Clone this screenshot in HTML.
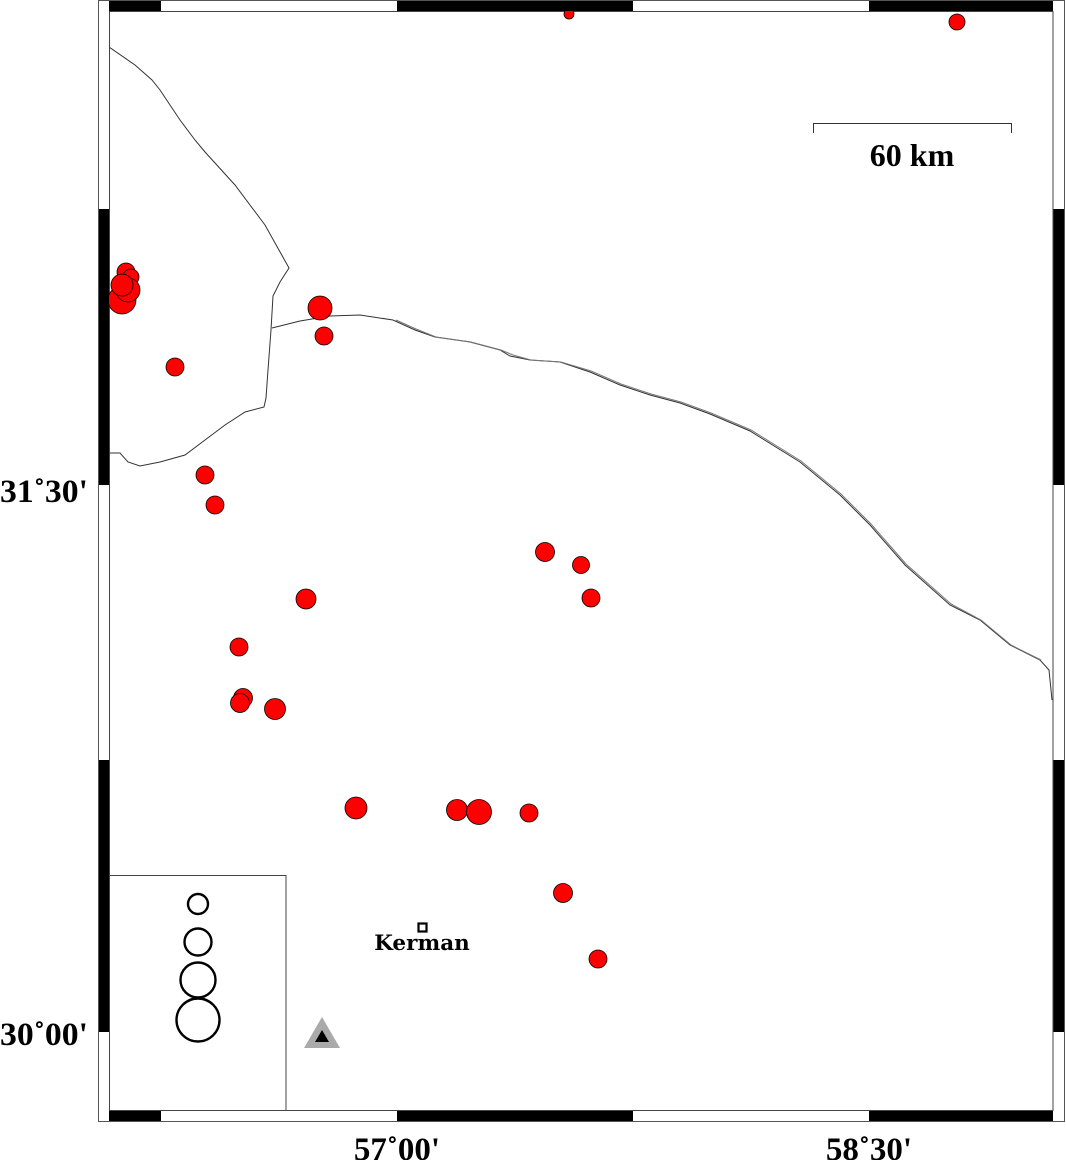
<!DOCTYPE html>
<html><head><meta charset="utf-8"><style>html,body{margin:0;padding:0;background:#fff}svg{display:block}</style></head>
<body>
<svg width="1066" height="1160" viewBox="0 0 1066 1160" xmlns="http://www.w3.org/2000/svg">
<defs><clipPath id="m"><rect x="109" y="11" width="944" height="1100"/></clipPath></defs>
<rect x="0" y="0" width="1066" height="1160" fill="#fff"/>
<rect x="98.5" y="0.5" width="966" height="1121" fill="#fff" stroke="#555" stroke-width="1"/>
<rect x="109" y="1" width="52" height="10" fill="#000"/>
<rect x="397" y="1" width="236" height="10" fill="#000"/>
<rect x="869" y="1" width="184" height="10" fill="#000"/>
<rect x="109" y="1111" width="52" height="10" fill="#000"/>
<rect x="397" y="1111" width="236" height="10" fill="#000"/>
<rect x="869" y="1111" width="184" height="10" fill="#000"/>
<rect x="99" y="209" width="10" height="276" fill="#000"/>
<rect x="99" y="760" width="10" height="272" fill="#000"/>
<rect x="1053" y="209" width="11" height="276" fill="#000"/>
<rect x="1053" y="760" width="11" height="272" fill="#000"/>
<rect x="109.5" y="11.5" width="943.5" height="1099" fill="#fff" stroke="#444" stroke-width="1"/>

<g clip-path="url(#m)" fill="none" stroke="#333" stroke-width="1">
<polyline points="109,47 135,65 152,80 160,90 180,120 195,140 205,152 235,185 265,225 289,268 280,282 273,296 271,330 268,370 266,398 264,407 245,412 225,425 205,440 185,455 160,462 140,466 128,462 120,453 109,453"/>
<polyline points="272,328 300,321 330,316 360,315 393,320 415,330 435,337 470,342 500,350 510,356 530,360 560,362 590,372 620,385 650,395 680,403 710,414 750,431 800,462 840,495 870,525 905,565 950,605 980,620 1010,645 1040,660 1049,670 1052,700"/>
<polyline stroke="#777" points="395,318 415,327 435,335 470,340 500,348 512,353 530,358 560,360 590,369 620,382 650,392 680,400 710,411 750,428 800,459 840,492 870,522 905,562 950,602 980,618 1010,643 1040,658" transform="translate(1,2)"/>
</g>

<g clip-path="url(#m)" fill="#ff0000" stroke="#000" stroke-width="0.8">
<circle cx="569" cy="14" r="5"/>
<circle cx="957" cy="22" r="8"/>
<circle cx="126" cy="272" r="9"/>
<circle cx="131" cy="277" r="8"/>
<circle cx="122" cy="300" r="14"/>
<circle cx="128" cy="290" r="12"/>
<circle cx="122" cy="285" r="11"/>
<circle cx="320" cy="308" r="12"/>
<circle cx="324" cy="336" r="9"/>
<circle cx="175" cy="367" r="9"/>
<circle cx="205" cy="475" r="9"/>
<circle cx="215" cy="505" r="9"/>
<circle cx="545" cy="552" r="9.5"/>
<circle cx="581" cy="565" r="8.5"/>
<circle cx="591" cy="598" r="9"/>
<circle cx="306" cy="599" r="10"/>
<circle cx="239" cy="647" r="9"/>
<circle cx="243" cy="698" r="9.5"/>
<circle cx="240" cy="703" r="9.5"/>
<circle cx="275" cy="709" r="10.5"/>
<circle cx="356" cy="808" r="11"/>
<circle cx="457" cy="810" r="10.5"/>
<circle cx="479" cy="812" r="12.5"/>
<circle cx="529" cy="813" r="9"/>
<circle cx="563" cy="893" r="9.5"/>
<circle cx="598" cy="959" r="9"/>
</g>

<rect x="109.5" y="875.5" width="176.5" height="235" fill="#fff" stroke="#444" stroke-width="1"/>
<g fill="none" stroke="#000" stroke-width="2.4">
<circle cx="198" cy="904" r="10"/>
<circle cx="198" cy="942" r="13.5"/>
<circle cx="198" cy="980" r="17.5"/>
<circle cx="198" cy="1020" r="21.5"/>
</g>
<polygon points="322,1017 340,1048 304,1048" fill="#aaa"/>
<polygon points="322,1030 329,1042 315,1042" fill="#000"/>

<rect x="418.5" y="923.5" width="8" height="8" fill="#fff" stroke="#000" stroke-width="2.2"/>
<text x="422" y="950" font-family="DejaVu Serif, Liberation Serif, serif" font-weight="bold" font-size="21.5" text-anchor="middle">Kerman</text>

<polyline points="813.5,133 813.5,123.5 1011.5,123.5 1011.5,133" fill="none" stroke="#333" stroke-width="1"/>
<text x="912" y="166" font-family="Liberation Serif, serif" font-weight="bold" font-size="32" text-anchor="middle">60 km</text>

<g font-family="Liberation Serif, serif" font-weight="bold" font-size="33">
<text x="0" y="502" textLength="88" lengthAdjust="spacingAndGlyphs">31˚30'</text>
<text x="0" y="1045" textLength="88" lengthAdjust="spacingAndGlyphs">30˚00'</text>
<text x="397" y="1160" text-anchor="middle">57˚00'</text>
<text x="869" y="1160" text-anchor="middle">58˚30'</text>
</g>
</svg>
</body></html>
